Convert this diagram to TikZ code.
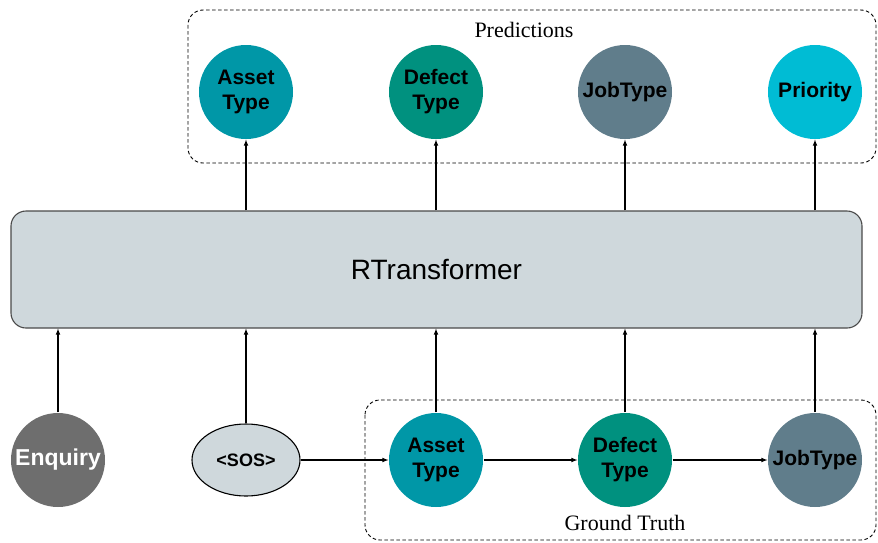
\documentclass[tikz,border=0pt]{standalone}
\usepackage{fontspec}
\setmainfont{Liberation Serif}
\setsansfont{Liberation Sans}
\usetikzlibrary{shapes.geometric}
\definecolor{assetc}{HTML}{0097A7}
\definecolor{defectc}{HTML}{00917F}
\definecolor{jobc}{HTML}{607D8B}
\definecolor{prioc}{HTML}{00BCD4}
\definecolor{enqc}{HTML}{6E6E6E}
\definecolor{greyc}{HTML}{CFD8DC}
\definecolor{edgec}{HTML}{4A4A4A}
\begin{document}
\begin{tikzpicture}[x=1pt,y=-1pt,line join=round,line width=1.1pt,>=latex,
  tok/.style={circle,minimum size=94pt,inner sep=0pt,align=center,
    font=\sffamily\bfseries\fontsize{21}{25}\selectfont},
  grp/.style={draw,dashed,dash pattern=on 3.5pt off 2.5pt,line width=0.9pt,rounded corners=15pt}]
\useasboundingbox (0,0) rectangle (878,542);

% groups
\draw[grp](188,10) rectangle (876,163);
\draw[grp](365,400) rectangle (876,540);
\node[font=\fontsize{22}{24}\selectfont] (pred) at (524,30) {Predictions};
\node[font=\fontsize{22}{24}\selectfont] (truth) at (625,523) {Ground Truth};

% model
\node[draw=edgec,fill=greyc,rounded corners=15pt,minimum width=851pt,minimum height=117pt,
  font=\sffamily\fontsize{28}{30}\selectfont] (rt) at (436.5,269.5) {RTransformer};

% outputs
\node[tok,fill=assetc] (pA) at (246,92) {Asset\\Type};
\node[tok,fill=defectc] (pD) at (436,92) {Defect\\Type};
\node[tok,fill=jobc] (pJ) at (625,92) {JobType};
\node[tok,fill=prioc] (pP) at (815,92) {Priority};

% inputs
\node[tok,fill=enqc,text=white,font=\sffamily\bfseries\fontsize{23}{25}\selectfont] (enq) at (58,460) {Enquiry};
\node[ellipse,draw,fill=greyc,minimum width=108pt,minimum height=72pt,inner sep=0pt,
  font=\sffamily\bfseries\fontsize{18}{20}\selectfont] (sos) at (246,460) {<SOS>};
\node[tok,fill=assetc] (gA) at (436,460) {Asset\\Type};
\node[tok,fill=defectc] (gD) at (625,460) {Defect\\Type};
\node[tok,fill=jobc] (gJ) at (815,460) {JobType};

\foreach \p in {pA,pD,pJ,pP}
  \draw[->](\p |- rt.north)--(\p.south);
\foreach \g in {enq,sos,gA,gD,gJ}
  \draw[->](\g)--(\g |- rt.south);
\draw[->](sos)--(gA);
\draw[->](gA)--(gD);
\draw[->](gD)--(gJ);
\end{tikzpicture}
\end{document}
